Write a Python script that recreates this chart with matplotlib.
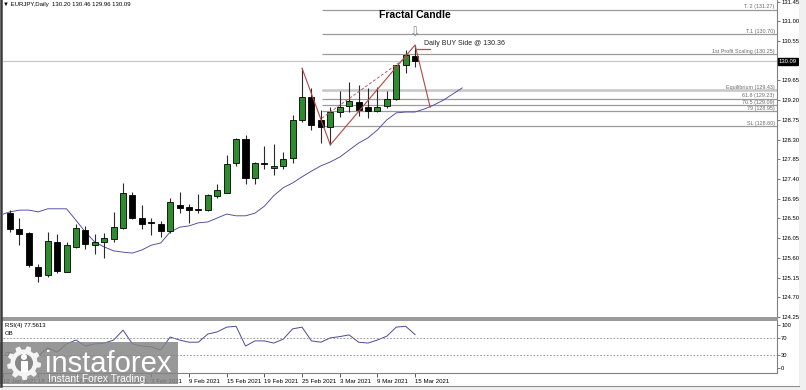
import numpy as np
import matplotlib.pyplot as plt
from matplotlib import font_manager
from matplotlib.patches import Rectangle, Polygon, Circle
from matplotlib.transforms import blended_transform_factory

plt.rcParams['font.family'] = ['Liberation Sans', 'DejaVu Sans']

# EURJPY daily bars, 13 Jan .. 15 Mar 2021 (bar index 0..43)
opens = [126.62, 126.26, 126.17, 125.39, 125.21, 125.96, 125.28, 125.85, 126.24, 125.89,
         125.96, 126.03, 126.28, 127.04, 126.51, 126.40, 126.37, 126.21, 126.81, 126.76,
         126.69, 126.69, 127.01, 127.08, 127.77, 128.31, 127.42, 127.74, 127.65, 127.70,
         127.88, 128.75, 129.27, 128.75, 128.59, 128.93, 129.07, 129.16, 129.04, 128.95,
         129.07, 129.23, 130.00, 130.20]
highs = [126.69, 126.51, 126.19, 125.46, 126.19, 126.15, 125.96, 126.37, 126.33, 126.15,
         126.17, 126.65, 127.31, 127.10, 126.81, 126.51, 126.44, 126.97, 127.10, 126.83,
         127.06, 127.06, 127.29, 127.95, 128.34, 128.41, 127.79, 128.15, 128.20, 128.02,
         128.86, 129.93, 129.48, 128.98, 129.04, 129.41, 129.62, 129.55, 129.48, 129.50,
         129.41, 130.00, 130.35, 130.46]
lows = [126.19, 125.89, 125.40, 125.05, 125.16, 125.25, 125.28, 125.83, 125.80, 125.69,
        125.60, 125.96, 126.26, 126.49, 126.26, 126.12, 126.08, 126.17, 126.62, 126.40,
        126.62, 126.66, 126.97, 127.08, 127.70, 127.29, 127.29, 127.63, 127.49, 127.63,
        127.77, 128.70, 128.52, 128.22, 128.18, 128.82, 128.93, 128.84, 128.79, 128.93,
        129.02, 129.20, 129.82, 129.96]
closes = [126.26, 126.14, 125.44, 125.19, 125.99, 125.30, 125.89, 126.28, 125.92, 125.96,
          126.05, 126.30, 127.08, 126.51, 126.37, 126.40, 126.21, 126.88, 126.74, 126.69,
          126.69, 127.04, 127.15, 127.74, 128.31, 127.42, 127.77, 127.74, 127.69, 127.86,
          128.75, 129.27, 128.63, 128.59, 128.93, 129.04, 129.18, 128.98, 128.95, 129.04,
          129.23, 130.00, 130.23, 130.09]

# shifted moving average, bar index -1 .. 48
ma_vals = [126.58, 126.65, 126.69, 126.69, 126.65, 126.72, 126.72, 126.72, 126.46, 126.19,
           125.96, 125.85, 125.76, 125.73, 125.71, 125.78, 125.89, 125.94, 126.19, 126.30,
           126.33, 126.40, 126.42, 126.51, 126.60, 126.56, 126.56, 126.62, 126.78, 127.02,
           127.20, 127.31, 127.45, 127.58, 127.70, 127.79, 127.90, 128.06, 128.22, 128.34,
           128.52, 128.75, 128.91, 128.93, 128.93, 129.00, 129.09, 129.20, 129.34, 129.48]

rsi_vals = [30, 25, 14, 28, 47, 37, 56, 65, 51, 56,
            58, 65, 88, 56, 51, 49, 42, 72, 65, 60,
            60, 79, 84, 95, 97, 51, 63, 63, 58, 67,
            91, 95, 63, 60, 70, 73, 77, 60, 58, 65,
            74, 95, 97, 77.5613]

fib_names = ['T. 2', 'T.1', '1st Profit Scaling', 'Equilibrium', '61.8', '70.5', '79', 'SL']
fib_levels = [131.27, 130.70, 130.25, 129.43, 129.23, 129.09, 128.95, 128.60]

zigzag_x = [31, 34, 43, 44.6]
zigzag_y = [129.93, 128.18, 130.46, 129.04]
dash_x = [33.1, 42.1]
dash_y = [128.79, 130.18]

price_ticks = [131.45, 131.00, 130.55, 129.65, 129.20, 128.75, 128.30, 127.85, 127.40,
               126.95, 126.50, 126.05, 125.60, 125.15, 124.70, 124.25]
date_pos = [-1, 3, 7, 11, 15, 19, 23, 27, 31, 35, 39, 43]
date_labels = ['12 Jan 2021', '18 Jan 2021', '22 Jan 2021', '28 Jan 2021', '3 Feb 2021',
               '9 Feb 2021', '15 Feb 2021', '19 Feb 2021', '25 Feb 2021', '3 Mar 2021',
               '9 Mar 2021', '15 Mar 2021']

last_price = 130.09

W, H = 806, 390
XL = (-0.743, 81.42)

fig = plt.figure(figsize=(W / 100, H / 100), dpi=100)
fig.patch.set_facecolor('white')

ax = fig.add_axes([3 / W, (H - 318) / H, 774 / W, 318 / H])
ax_rsi = fig.add_axes([3 / W, (H - 373) / H, 774 / W, 53 / H])

# ---- main price panel
idx = np.arange(len(opens))
o = np.array(opens); c = np.array(closes)
bottoms = np.minimum(o, c)
heights = np.maximum(np.abs(c - o), 0.015)
cols = ['#2e8b2e' if cc > oo else 'black' for oo, cc in zip(o, c)]

ax.axhline(last_price, color='#c8c8c8', lw=0.9, zorder=1)
ax.hlines(fib_levels, 33.1, XL[1], color='#9a9a9a', lw=0.9, zorder=1)
ax.hlines(fib_levels[3], 33.1, XL[1], color='#c8c8c8', lw=1.8, zorder=1)
tr = blended_transform_factory(ax.transAxes, ax.transData)
for name, lev in zip(fib_names, fib_levels):
    ax.text(0.997, lev + 0.01, f'{name} ({lev:.2f})', transform=tr, ha='right', va='bottom',
            fontsize=3.9, color='#6a6a6a')

ax.plot(np.arange(-1, len(ma_vals) - 1), ma_vals, color='#4a4a9a', lw=0.65, zorder=2)
ax.vlines(idx, lows, highs, color='#2a2a2a', lw=0.8, zorder=3)
ax.bar(idx, heights, bottom=bottoms, width=0.64, color=cols, edgecolor='black', lw=0.6, zorder=4)

ax.plot(zigzag_x, zigzag_y, color='#b04848', lw=0.8, zorder=5)
ax.plot(dash_x, dash_y, color='#b06060', lw=0.7, ls=(0, (3, 2)), zorder=5)
ax.plot([43.2, 44.6], [130.36, 130.36], color='#c04848', lw=0.9, zorder=5)
ax.text(44.0, 130.50, 'Daily BUY Side @ 130.36', fontsize=5, va='center', ha='left', color='#222222')
ax.text(43, 131.14, 'Fractal Candle', fontsize=7.5, fontweight='bold', ha='center', va='center')
ax.text(43, 130.74, '\u21e9', fontsize=9, ha='center', va='center', color='#8a8a8a',
        family=['DejaVu Sans'])

ax.text(0.0, 0.987, '\u25bc EURJPY,Daily  130.20 130.46 129.96 130.09', transform=ax.transAxes,
        fontsize=4.3, va='center', ha='left', family=['Liberation Sans', 'DejaVu Sans'])

ax.set_xlim(*XL)
ax.set_ylim(124.227, 131.487)
ax.set_xticks([])
ax.yaxis.tick_right()
ax.set_yticks(price_ticks)
ax.set_yticklabels([f'{p:.2f}' for p in price_ticks])
ax.tick_params(axis='y', labelsize=4.2, length=2, width=0.6, color='#606060', pad=1)
for s in ['top', 'left']:
    ax.spines[s].set_visible(False)
ax.spines['right'].set_color('#808080')
ax.spines['bottom'].set_color('#909090')
ax.spines['bottom'].set_linewidth(1.3)
ax.text(1.0026, last_price, f'{last_price:.2f}', transform=tr, fontsize=4.2, color='white',
        va='center', ha='left', bbox=dict(boxstyle='square,pad=0.15', fc='black', ec='black'))

# ---- RSI panel
ax_rsi.plot(idx, rsi_vals, color='#4a4a9a', lw=0.7)
ax_rsi.axhline(70, color='#8a8a8a', lw=0.6, ls=(0, (2, 2)))
ax_rsi.axhline(30, color='#8a8a8a', lw=0.6, ls=(0, (2, 2)))
ax_rsi.set_xlim(*XL)
ax_rsi.set_ylim(-11.6, 111.6)
ax_rsi.yaxis.tick_right()
ax_rsi.set_yticks([0, 30, 70, 100])
ax_rsi.tick_params(axis='y', labelsize=4.2, length=2, width=0.6, color='#606060', pad=1)
ax_rsi.set_xticks([max(p, XL[0] + 0.05) for p in date_pos])
ax_rsi.set_xticklabels(date_labels)
ax_rsi.tick_params(axis='x', labelsize=4.4, length=3, width=0.6, color='#404040', pad=1)
for lbl in ax_rsi.get_xticklabels():
    lbl.set_ha('left')
ax_rsi.spines['left'].set_visible(False)
ax_rsi.spines['right'].set_color('#808080')
ax_rsi.spines['top'].set_color('#909090')
ax_rsi.spines['top'].set_linewidth(1.3)
ax_rsi.spines['bottom'].set_color('#808080')
ax_rsi.text(0.002, 0.887, 'RSI(4) 77.5613', transform=ax_rsi.transAxes, fontsize=4.3, va='center')
ax_rsi.text(0.002, 0.736, 'OB', transform=ax_rsi.transAxes, fontsize=4.3, va='center')
ax_rsi.text(0.002, 0.358, 'OS', transform=ax_rsi.transAxes, fontsize=4.3, va='center')

# ---- frame + watermark overlay (pixel coordinates)
ov = fig.add_axes([0, 0, 1, 1], zorder=10)
ov.set_xlim(0, W)
ov.set_ylim(H, 0)
ov.axis('off')
ov.patch.set_alpha(0)
ov.add_patch(Rectangle((799, 0), 7, H, fc='#f0f0f0', ec='none'))
ov.add_patch(Rectangle((0, 386), W, 4, fc='#f0f0f0', ec='none'))
ov.plot([0, 799], [385.5, 385.5], color='#909090', lw=0.8)
ov.plot([1.2, 1.2], [0, 386], color='#3a3a3a', lw=1.8)

ov.add_patch(Rectangle((0, 342), 178, 42, fc='#868686', ec='none', alpha=0.85))
ang = np.linspace(0, 2 * np.pi, 73)
rad = np.where((np.arange(73) // 4) % 2 == 0, 17, 13.5)
ov.add_patch(Polygon(np.c_[24 + rad * np.cos(ang), 363 + rad * np.sin(ang)], fc='white', ec='none', alpha=0.9))
ov.add_patch(Circle((24, 363), 9, fc='#868686', ec='none'))
ov.add_patch(Circle((24, 357), 3, fc='white', ec='none'))
ov.add_patch(Rectangle((20.5, 361), 7, 11, fc='white', ec='none'))

names = {f.name for f in font_manager.fontManager.ttflist}
if 'Liberation Sans Narrow' in names:
    ov.text(45, 372, 'instaforex', fontsize=25, color='white', family='Liberation Sans Narrow', va='baseline')
else:
    ov.text(45, 372, 'instaforex', fontsize=21, color='white', va='baseline')
ov.text(48, 382, 'Instant Forex Trading', fontsize=7.4, color='white', va='baseline')

fig.savefig('out.png', dpi=100)
